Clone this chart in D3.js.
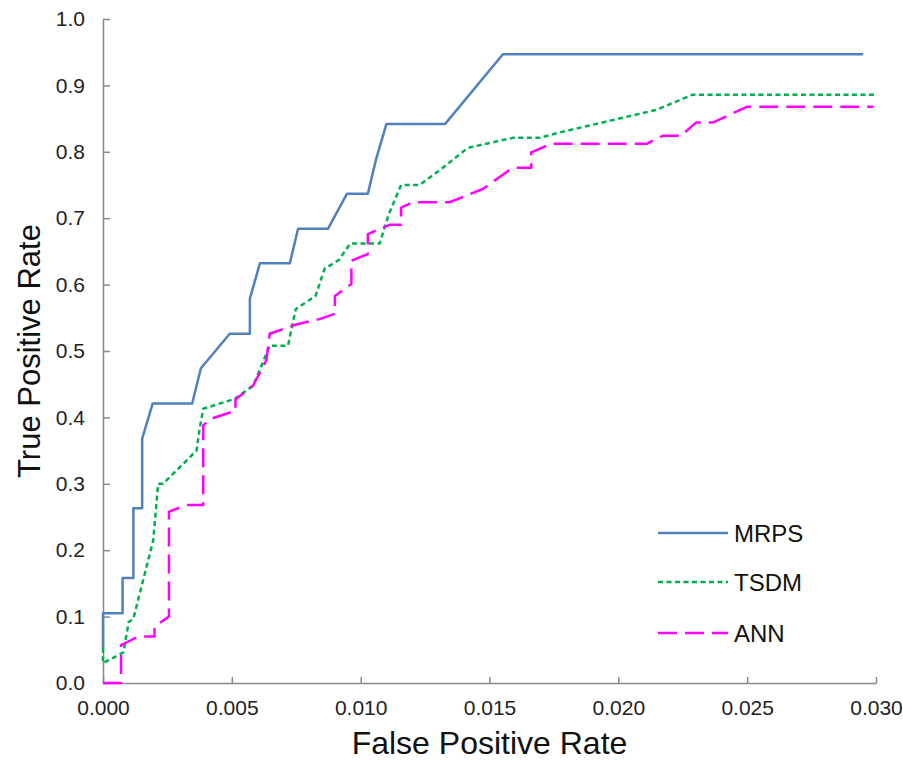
<!DOCTYPE html>
<html>
<head>
<meta charset="utf-8">
<script src="https://cdn.jsdelivr.net/npm/d3@7/dist/d3.min.js"></script>
<style>
  html, body { margin: 0; padding: 0; background: #fff; }
  svg { display: block; font-family: "Liberation Sans", Arial, sans-serif; }
</style>
</head>
<body>
<svg id="chart" width="903" height="760"></svg>
<script>
// ROC curves: [false positive rate, true positive rate]
const mrps = [
  [0, 0.0526], [0, 0.105], [0.00076, 0.105], [0.00076, 0.158], [0.00118, 0.158],
  [0.00118, 0.263], [0.00152, 0.263], [0.00152, 0.368], [0.00193, 0.421],
  [0.00346, 0.421], [0.0038, 0.474], [0.00492, 0.526], [0.0057, 0.526],
  [0.0057, 0.579], [0.00609, 0.632], [0.00725, 0.632], [0.00757, 0.684],
  [0.00873, 0.684], [0.00947, 0.737], [0.01028, 0.737], [0.0106, 0.789],
  [0.011, 0.842], [0.01328, 0.842], [0.01552, 0.947], [0.0295, 0.947]
];
const tsdm = [
  [0, 0.053], [0, 0.03], [0.00079, 0.046], [0.001, 0.092], [0.00118, 0.097],
  [0.00195, 0.215], [0.00214, 0.3], [0.00233, 0.3], [0.00363, 0.35],
  [0.00376, 0.385], [0.00389, 0.413], [0.00512, 0.428], [0.00583, 0.448],
  [0.00647, 0.508], [0.00718, 0.508], [0.00748, 0.563], [0.00825, 0.583],
  [0.0086, 0.624], [0.00915, 0.637], [0.0096, 0.662], [0.01074, 0.662],
  [0.01108, 0.705], [0.01157, 0.75], [0.01229, 0.75], [0.01319, 0.776],
  [0.01416, 0.806], [0.0159, 0.821], [0.01694, 0.821], [0.01771, 0.829],
  [0.02146, 0.863], [0.02288, 0.886], [0.0300, 0.886]
];
const ann = [
  [0, 0], [0.0007, 0], [0.0007, 0.057], [0.00137, 0.07], [0.002, 0.07],
  [0.002, 0.085], [0.00256, 0.1], [0.00256, 0.258], [0.00324, 0.268],
  [0.00389, 0.268], [0.00389, 0.388], [0.0042, 0.398], [0.00514, 0.41],
  [0.00514, 0.427], [0.00583, 0.448], [0.00634, 0.486], [0.00647, 0.526],
  [0.0075, 0.54], [0.0084, 0.548], [0.009, 0.556], [0.009, 0.583],
  [0.00964, 0.601], [0.00964, 0.636], [0.01028, 0.646], [0.01028, 0.676],
  [0.01112, 0.69], [0.01157, 0.69], [0.01157, 0.716], [0.01203, 0.724],
  [0.01345, 0.724], [0.01474, 0.744], [0.0159, 0.776], [0.01662, 0.776],
  [0.01662, 0.799], [0.01739, 0.812], [0.0211, 0.812], [0.02172, 0.824],
  [0.02243, 0.824], [0.02301, 0.844], [0.02366, 0.844], [0.02501, 0.868],
  [0.0299, 0.868]
];
const seriesNames = ["MRPS", "TSDM", "ANN"];
const xTicks = [0, 0.005, 0.010, 0.015, 0.020, 0.025, 0.030];
const yTicks = [0, 0.1, 0.2, 0.3, 0.4, 0.5, 0.6, 0.7, 0.8, 0.9, 1.0];

const styles = {
  MRPS: { color: "#4F81BD", dash: null, width: 2.5 },
  TSDM: { color: "#00B050", dash: "5,3.5", width: 2.5 },
  ANN:  { color: "#FF00FF", dash: "19,8", width: 2.5 }
};
const seriesData = { MRPS: mrps, TSDM: tsdm, ANN: ann };

const svg = d3.select("#chart");
const plotLeft = 103, plotRight = 876, plotTop = 19, plotBottom = 683;

const x = d3.scaleLinear().domain([0, 0.03]).range([plotLeft, plotRight]);
const y = d3.scaleLinear().domain([0, 1]).range([plotBottom, plotTop]);

const axisColor = "#888888";

// Axes with inward ticks
const xAxis = d3.axisBottom(x).tickValues(xTicks).tickSizeInner(-6).tickSizeOuter(0)
  .tickPadding(18).tickFormat(d3.format(".3f"));
const yAxis = d3.axisLeft(y).tickValues(yTicks).tickSizeInner(-7).tickSizeOuter(0)
  .tickPadding(18).tickFormat(d3.format(".1f"));

const gx = svg.append("g").attr("transform", `translate(0,${plotBottom})`).call(xAxis);
const gy = svg.append("g").attr("transform", `translate(${plotLeft},0)`).call(yAxis);

[gx, gy].forEach(g => {
  g.select(".domain").attr("stroke", axisColor).attr("stroke-width", 1.5);
  g.selectAll(".tick line").attr("stroke", axisColor).attr("stroke-width", 1.5);
  g.selectAll(".tick text").attr("fill", "#222").attr("font-size", 21)
    .attr("font-family", "Liberation Sans, Arial, sans-serif");
});
gx.selectAll(".tick text").attr("dy", "0.71em").attr("y", 17);
gy.selectAll(".tick text").attr("x", -18);

// Curves
const line = d3.line().x(d => x(d[0])).y(d => y(d[1]));
seriesNames.forEach(name => {
  const s = styles[name];
  svg.append("path")
    .datum(seriesData[name])
    .attr("fill", "none")
    .attr("stroke", s.color)
    .attr("stroke-width", s.width)
    .attr("stroke-dasharray", s.dash)
    .attr("stroke-linejoin", "round")
    .attr("d", line);
});

// Axis titles
svg.append("text")
  .attr("x", (plotLeft + plotRight) / 2).attr("y", 754)
  .attr("text-anchor", "middle").attr("font-size", 32).attr("fill", "#111")
  .text("False Positive Rate");
svg.append("text")
  .attr("transform", `translate(40,${(plotTop + plotBottom) / 2}) rotate(-90)`)
  .attr("text-anchor", "middle").attr("font-size", 31).attr("fill", "#111")
  .text("True Positive Rate");

// Legend
const legendY = [533, 582, 633];
const legend = svg.append("g");
seriesNames.forEach((name, i) => {
  const s = styles[name];
  legend.append("line")
    .attr("x1", 658).attr("x2", 728)
    .attr("y1", legendY[i]).attr("y2", legendY[i])
    .attr("stroke", s.color).attr("stroke-width", s.width)
    .attr("stroke-dasharray", s.dash);
  legend.append("text")
    .attr("x", 734).attr("y", legendY[i]).attr("dy", "0.36em")
    .attr("font-size", 24).attr("fill", "#111")
    .text(name);
});
</script>
</body>
</html>
